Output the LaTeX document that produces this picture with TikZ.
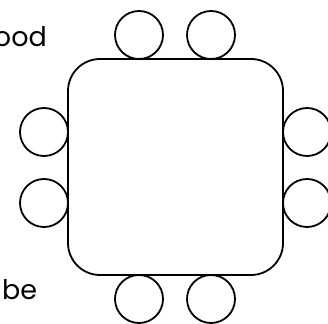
\documentclass[tikz,border=0pt]{standalone}
\usepackage{fontspec}
\setmainfont{Poppins}
\begin{document}
\begin{tikzpicture}[x=1pt,y=1pt,
  seat/.style={circle,draw=black,line width=1.8pt,minimum size=48pt,inner sep=0pt},
  tablebox/.style={draw=black,line width=1.8pt,rounded corners=32pt,minimum width=215pt,minimum height=216pt,inner sep=0pt},
  lbl/.style={font=\fontsize{27}{30}\selectfont,inner sep=0pt,text=black}]
\useasboundingbox (0,0) rectangle (328,323);
\node[tablebox] (table) at (175.5,156) {};
\node[seat] (t1) at (139,288) {};
\node[seat] (t2) at (211,288) {};
\node[seat] (b1) at (139,24) {};
\node[seat] (b2) at (211,24) {};
\node[seat] (l1) at (44,191) {};
\node[seat] (l2) at (44,120) {};
\node[seat] (r1) at (307,191) {};
\node[seat] (r2) at (307,120) {};
\node[lbl,anchor=base east] (txt1) at (47,276) {ood};
\node[lbl,anchor=base west] (txt2) at (2,24) {be};
\end{tikzpicture}
\end{document}
